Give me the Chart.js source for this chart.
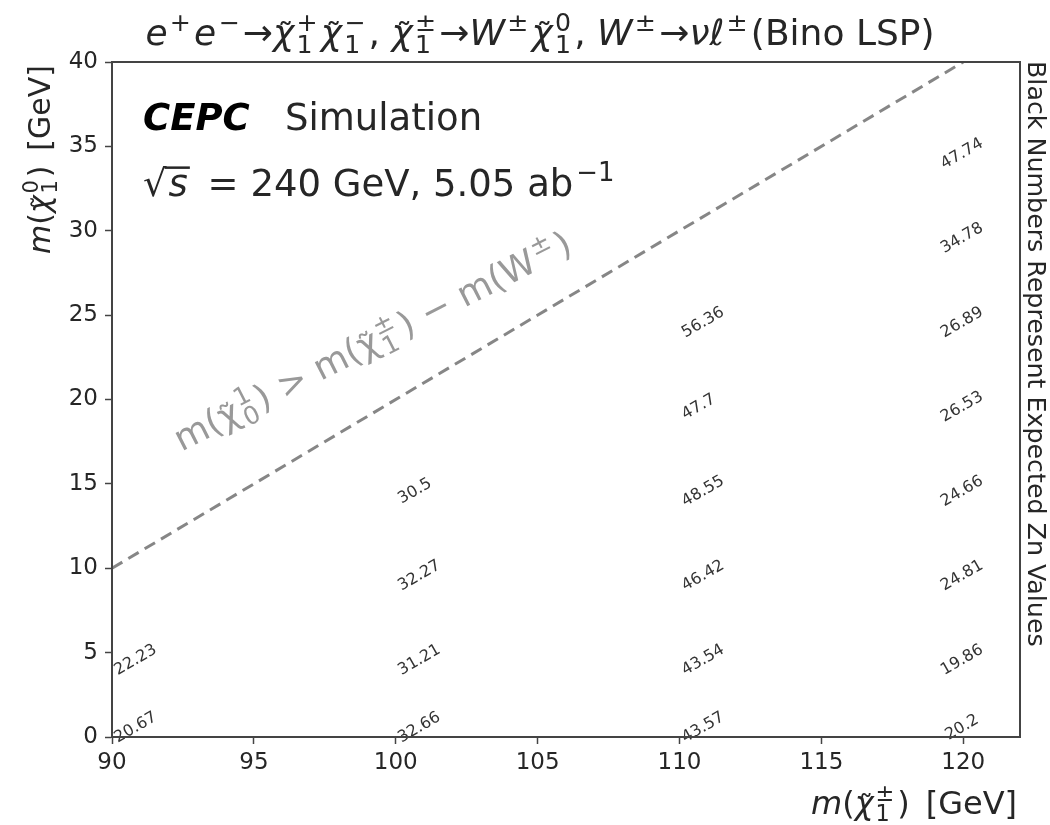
<!DOCTYPE html>
<html>
<head>
<meta charset="utf-8">
<script src="https://cdn.jsdelivr.net/npm/chart.js@4.4.0/dist/chart.umd.min.js"></script>
<style>
  html, body { margin: 0; padding: 0; background: #fff; }
  #wrap { width: 1050px; height: 825px; }
</style>
</head>
<body>
<div id="wrap"><canvas id="znChart" width="1050" height="825"></canvas></div>
<script>
// signal grid: chargino mass, neutralino mass and expected Zn at each point
const charginoMass = [90, 90, 100, 100, 100, 100, 110, 110, 110, 110, 110, 110, 120, 120, 120, 120, 120, 120, 120, 120];
const neutralinoMass = [1, 5, 1, 5, 10, 15, 1, 5, 10, 15, 20, 25, 1, 5, 10, 15, 20, 25, 30, 35];
const znValues = [20.67, 22.23, 32.66, 31.21, 32.27, 30.5, 43.57, 43.54, 46.42, 48.55, 47.7, 56.36, 20.2, 19.86, 24.81, 24.66, 26.53, 26.89, 34.78, 47.74];

// kinematic limit m(chi0) = m(chi+-) - m(W)
const edgeX = [90, 120];
const edgeY = [10, 40];

const xTicks = [90, 95, 100, 105, 110, 115, 120];
const yTicks = [0, 5, 10, 15, 20, 25, 30, 35, 40];

const FAMILY = "'DejaVu Sans'";
const TEXT = '#262626';
const AXIS = '#444';

function fontStr(size, it, bold) {
    return (it ? 'oblique ' : '') + (bold ? 'bold ' : '') + size + 'px ' + FAMILY;
}

// draws a run of text with stacked super/subscripts, returns its width
function mathRun(ctx, parts, x, y, size, draw) {
    let cx = x;
    for (const p of parts) {
        ctx.font = fontStr(size, p.it, p.bold);
        const w = ctx.measureText(p.t).width;
        if (draw) ctx.fillText(p.t, cx, y);
        if (p.tilde && draw) {
            ctx.save();
            ctx.font = fontStr(size * 0.9, false);
            ctx.textAlign = 'center';
            ctx.fillText('\u02DC', cx + w * (p.it ? 0.6 : 0.5), y + size * 0.02);
            ctx.restore();
        }
        cx += w;
        if (p.sup || p.sub) {
            const ss = size * 0.7;
            const gap = size * 0.06;
            ctx.font = fontStr(ss, false);
            let sw = 0;
            if (p.sup) {
                if (draw) ctx.fillText(p.sup, cx + gap, y - size * 0.4);
                sw = Math.max(sw, ctx.measureText(p.sup).width);
            }
            if (p.sub) {
                if (draw) ctx.fillText(p.sub, cx + gap, y + size * 0.22);
                sw = Math.max(sw, ctx.measureText(p.sub).width);
            }
            cx += sw + gap * 2.5;
        }
    }
    return cx - x;
}

const titleParts = [
    { t: 'e', it: true, sup: '+' }, { t: 'e', it: true, sup: '\u2212' }, { t: '\u2192' },
    { t: '\u03C7', it: true, tilde: true, sup: '+', sub: '1' },
    { t: '\u03C7', it: true, tilde: true, sup: '\u2212', sub: '1' }, { t: ', ' },
    { t: '\u03C7', it: true, tilde: true, sup: '\u00B1', sub: '1' }, { t: '\u2192' },
    { t: 'W', it: true, sup: '\u00B1' },
    { t: '\u03C7', it: true, tilde: true, sup: '0', sub: '1' }, { t: ', ' },
    { t: 'W', it: true, sup: '\u00B1' }, { t: '\u2192' },
    { t: '\u03BD', it: true }, { t: '\u2113', it: true, sup: '\u00B1' },
    { t: '(Bino LSP)' }
];
const yTitleParts = [
    { t: 'm', it: true }, { t: '(' },
    { t: '\u03C7', it: true, tilde: true, sup: '0', sub: '1' }, { t: ')\u2002[GeV]' }
];
const xTitleParts = [
    { t: 'm', it: true }, { t: '(' },
    { t: '\u03C7', it: true, tilde: true, sup: '\u00B1', sub: '1' }, { t: ')\u2002[GeV]' }
];
const edgeParts = [
    { t: 'm(' }, { t: '\u03C7', tilde: true, sup: '1', sub: '0' }, { t: ') > m(' },
    { t: '\u03C7', tilde: true, sup: '\u00B1', sub: '1' }, { t: ') \u2212 m(' },
    { t: 'W', sup: '\u00B1' }, { t: ')' }
];

// rotated Zn numbers next to each grid point
const znLabels = {
    id: 'znLabels',
    afterDatasetsDraw(chart) {
        const { ctx, scales: { x, y } } = chart;
        const size = 16;
        const ang = 30 * Math.PI / 180;
        const lastCol = Math.max(...charginoMass);
        ctx.save();
        ctx.font = size + 'px ' + FAMILY;
        ctx.fillStyle = '#333';
        ctx.textAlign = 'center';
        ctx.textBaseline = 'alphabetic';
        znValues.forEach((v, i) => {
            const txt = String(v);
            const w = ctx.measureText(txt).width;
            const h = 0.73 * size;
            const W = w * Math.cos(ang) + h * Math.sin(ang);
            const px = x.getPixelForValue(charginoMass[i]);
            const py = y.getPixelForValue(neutralinoMass[i]);
            const cx = charginoMass[i] === lastCol ? px - 2 : px + W / 2;
            const cy = py + 6;
            ctx.save();
            ctx.translate(cx, cy);
            ctx.rotate(-ang);
            ctx.fillText(txt, 0, h / 2);
            ctx.restore();
        });
        ctx.restore();
    }
};

// frame, titles and annotations
const decorations = {
    id: 'decorations',
    afterDraw(chart) {
        const { ctx, chartArea: a, scales: { x, y } } = chart;
        ctx.save();
        ctx.strokeStyle = AXIS;
        ctx.lineWidth = 2;
        ctx.strokeRect(a.left, a.top, a.right - a.left, a.bottom - a.top);

        ctx.fillStyle = TEXT;
        ctx.textAlign = 'left';
        ctx.textBaseline = 'alphabetic';

        // title
        const ts = 36;
        const tw = mathRun(ctx, titleParts, 0, 0, ts, false);
        mathRun(ctx, titleParts, 540 - tw / 2, 45, ts, true);

        // y title, top aligned
        const ys = 30;
        const yw = mathRun(ctx, yTitleParts, 0, 0, ys, false);
        ctx.save();
        ctx.translate(50, a.top + 3);
        ctx.rotate(-Math.PI / 2);
        mathRun(ctx, yTitleParts, -yw, 0, ys, true);
        ctx.restore();

        // x title, right aligned
        const xs = 32;
        const xw = mathRun(ctx, xTitleParts, 0, 0, xs, false);
        mathRun(ctx, xTitleParts, a.right - 3 - xw, 814, xs, true);

        // right side note
        ctx.save();
        ctx.translate(1028, a.top - 1);
        ctx.rotate(Math.PI / 2);
        ctx.font = fontStr(25.3, false);
        ctx.fillText('Black Numbers Represent Expected Zn Values', 0, 0);
        ctx.restore();

        // experiment label
        ctx.font = fontStr(37, true, true);
        ctx.fillStyle = '#000';
        ctx.fillText('CEPC', 143, 130);
        ctx.fillStyle = TEXT;
        ctx.font = fontStr(37, false);
        ctx.fillText('Simulation', 285, 130);

        const ls = 37;
        let cx = 143;
        const by = 196;
        ctx.font = fontStr(ls, false);
        const rw = ctx.measureText('\u221A').width;
        ctx.fillText('\u221A', cx, by);
        cx += rw;
        ctx.font = fontStr(ls, true);
        const sw = ctx.measureText('s').width;
        ctx.fillText('s', cx + 2, by);
        ctx.fillRect(cx - 2, by - ls * 0.8, sw + 6, 2.5);
        cx += sw + 10;
        ctx.font = fontStr(ls, false);
        const rest = ' = 240 GeV, 5.05 ab';
        ctx.fillText(rest, cx, by);
        cx += ctx.measureText(rest).width;
        ctx.font = fontStr(ls * 0.7, false);
        ctx.fillText('\u22121', cx + 3, by - ls * 0.4);

        // kinematic edge annotation
        ctx.fillStyle = '#999';
        ctx.save();
        ctx.translate(x.getPixelForValue(92.45), y.getPixelForValue(16.9));
        ctx.rotate(-27 * Math.PI / 180);
        mathRun(ctx, edgeParts, 0, 0, 35.5, true);
        ctx.restore();

        ctx.restore();
    }
};

const tickFont = { family: FAMILY, size: 23 };

new Chart(document.getElementById('znChart'), {
    type: 'scatter',
    data: {
        datasets: [
            {
                label: 'Zn',
                data: charginoMass.map((m, i) => ({ x: m, y: neutralinoMass[i] })),
                pointRadius: 0,
                pointHoverRadius: 0
            },
            {
                label: 'edge',
                data: edgeX.map((m, i) => ({ x: m, y: edgeY[i] })),
                showLine: true,
                borderColor: 'rgba(128, 128, 128, 0.95)',
                borderWidth: 3,
                borderDash: [12, 7],
                pointRadius: 0,
                pointHoverRadius: 0,
                fill: false
            }
        ]
    },
    options: {
        responsive: false,
        animation: false,
        layout: { padding: { top: 62, right: 30, left: 0, bottom: 0 } },
        plugins: {
            legend: { display: false },
            tooltip: { enabled: false }
        },
        scales: {
            x: {
                type: 'linear',
                min: 90,
                max: 122,
                afterBuildTicks: s => { s.ticks = xTicks.map(v => ({ value: v })); },
                afterFit: s => { s.height = 88; },
                ticks: { font: tickFont, color: TEXT, padding: 5, maxRotation: 0 },
                grid: { display: true, drawOnChartArea: false, drawTicks: true, tickLength: 7, tickColor: AXIS, tickWidth: 1.5 },
                border: { display: true, color: AXIS, width: 2 }
            },
            y: {
                type: 'linear',
                min: 0,
                max: 40,
                afterBuildTicks: s => { s.ticks = yTicks.map(v => ({ value: v })); },
                afterFit: s => { s.width = 112; },
                ticks: { font: tickFont, color: TEXT, padding: 7 },
                grid: { display: true, drawOnChartArea: false, drawTicks: true, tickLength: 7, tickColor: AXIS, tickWidth: 1.5 },
                border: { display: true, color: AXIS, width: 2 }
            }
        }
    },
    plugins: [znLabels, decorations]
});
</script>
</body>
</html>
